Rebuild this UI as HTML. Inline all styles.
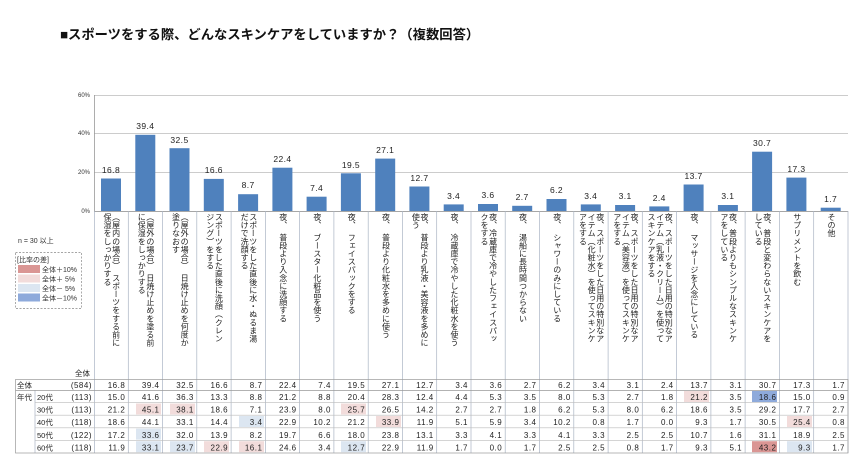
<!DOCTYPE html>
<html><head><meta charset="utf-8"><style>
html,body{margin:0;padding:0;background:#fff}
body{width:863px;height:467px;position:relative;overflow:hidden;font-family:"Liberation Sans","Noto Sans CJK JP",sans-serif}
.t{position:absolute;left:60px;top:24px;font-size:13.3px;font-weight:bold;color:#111;white-space:nowrap}
.lb{position:absolute;top:213px;width:34px;height:166px;display:flex;justify-content:center}
.lb div{writing-mode:vertical-rl;font-size:8px;line-height:8.6px;letter-spacing:0.1px;color:#222;white-space:nowrap}
svg{position:absolute;left:0;top:0}
</style></head><body>
<div class="t">■スポーツをする際、どんなスキンケアをしていますか？（複数回答）</div>
<svg width="863" height="467" font-family="Liberation Sans, Noto Sans CJK JP, sans-serif">
<g stroke="#bbb" stroke-width="0.8">
<line x1="94" y1="95.5" x2="848" y2="95.5"/><line x1="94" y1="133.5" x2="848" y2="133.5"/><line x1="94" y1="172.5" x2="848" y2="172.5"/>
</g>
<line x1="94.5" y1="95" x2="94.5" y2="211" stroke="#999" stroke-width="0.8"/>
<g font-size="6" fill="#333" text-anchor="end"><text x="90" y="97">60%</text><text x="90" y="135">40%</text><text x="90" y="174">20%</text><text x="90" y="213">0%</text></g>
<g fill="#4f81bd">
<rect x="101" y="178.5" width="20" height="32.5"/><rect x="135.3" y="134.8" width="20" height="76.2"/><rect x="169.5" y="148.2" width="20" height="62.8"/><rect x="203.8" y="178.9" width="20" height="32.1"/><rect x="238.1" y="194.2" width="20" height="16.8"/><rect x="272.4" y="167.7" width="20" height="43.3"/><rect x="306.6" y="196.7" width="20" height="14.3"/><rect x="340.9" y="173.3" width="20" height="37.7"/><rect x="375.2" y="158.6" width="20" height="52.4"/><rect x="409.4" y="186.5" width="20" height="24.5"/><rect x="443.7" y="204.4" width="20" height="6.6"/><rect x="478" y="204" width="20" height="7"/><rect x="512.2" y="205.8" width="20" height="5.2"/><rect x="546.5" y="199" width="20" height="12"/><rect x="580.8" y="204.4" width="20" height="6.6"/><rect x="615.1" y="205" width="20" height="6"/><rect x="649.3" y="206.4" width="20" height="4.6"/><rect x="683.6" y="184.5" width="20" height="26.5"/><rect x="717.9" y="205" width="20" height="6"/><rect x="752.1" y="151.7" width="20" height="59.3"/><rect x="786.4" y="177.6" width="20" height="33.4"/><rect x="820.7" y="207.7" width="20" height="3.3"/>
</g>
<line x1="94" y1="211.5" x2="848" y2="211.5" stroke="#888" stroke-width="0.8"/>
<g font-size="8.5" fill="#222" text-anchor="middle" letter-spacing="0.4">
<text x="111" y="173">16.8</text><text x="145.3" y="129">39.4</text><text x="179.5" y="143">32.5</text><text x="213.8" y="173">16.6</text><text x="248.1" y="188">8.7</text><text x="282.4" y="162">22.4</text><text x="316.6" y="191">7.4</text><text x="350.9" y="168">19.5</text><text x="385.2" y="153">27.1</text><text x="419.4" y="181">12.7</text><text x="453.7" y="199">3.4</text><text x="488" y="198">3.6</text><text x="522.2" y="200">2.7</text><text x="556.5" y="193">6.2</text><text x="590.8" y="199">3.4</text><text x="625.1" y="199">3.1</text><text x="659.3" y="201">2.4</text><text x="693.6" y="179">13.7</text><text x="727.9" y="199">3.1</text><text x="762.1" y="146">30.7</text><text x="796.4" y="172">17.3</text><text x="830.7" y="202">1.7</text>
</g>
<text x="18" y="243" font-size="7" fill="#333">n = 30 以上</text>
<rect x="15.5" y="252.5" width="66" height="56" fill="none" stroke="#888" stroke-width="0.7" stroke-dasharray="2,1.5"/>
<text x="17" y="262" font-size="7" fill="#333">[比率の差]</text>
<rect x="18" y="265" width="22" height="8" fill="#da9694"/><rect x="18" y="274.5" width="22" height="8" fill="#f2dcdb"/><rect x="18" y="284" width="22" height="8" fill="#dce6f1"/><rect x="18" y="293.5" width="22" height="8" fill="#8eaadb"/>
<g font-size="7" fill="#333"><text x="42" y="272">全体＋10%</text><text x="42" y="281.5">全体＋ 5%</text><text x="42" y="291">全体－ 5%</text><text x="42" y="300.5">全体－10%</text></g>
<rect x="136" y="403.5" width="25" height="11" fill="#f2dcdb"/><rect x="170" y="403.5" width="25" height="11" fill="#f2dcdb"/><rect x="341" y="403.5" width="25" height="11" fill="#f2dcdb"/>
<rect x="239" y="416" width="25" height="11" fill="#dce6f1"/><rect x="376" y="416" width="25" height="11" fill="#f2dcdb"/><rect x="787" y="416" width="25" height="11" fill="#f2dcdb"/>
<rect x="136" y="428.6" width="25" height="11" fill="#dce6f1"/>
<rect x="136" y="441.2" width="25" height="11" fill="#dce6f1"/><rect x="170" y="441.2" width="25" height="11" fill="#dce6f1"/><rect x="204" y="441.2" width="25" height="11" fill="#f2dcdb"/><rect x="239" y="441.2" width="25" height="11" fill="#f2dcdb"/><rect x="341" y="441.2" width="25" height="11" fill="#dce6f1"/><rect x="752" y="441.2" width="25" height="11" fill="#da9694"/><rect x="787" y="441.2" width="25" height="11" fill="#dce6f1"/>
<rect x="684" y="391" width="25" height="11" fill="#f2dcdb"/><rect x="752" y="391" width="25" height="11" fill="#8eaadb"/>
<g stroke="#aab4c4" stroke-width="0.7">
<line x1="128.3" y1="211" x2="128.3" y2="453"/><line x1="162.5" y1="211" x2="162.5" y2="453"/><line x1="196.8" y1="211" x2="196.8" y2="453"/><line x1="231.1" y1="211" x2="231.1" y2="453"/><line x1="265.4" y1="211" x2="265.4" y2="453"/><line x1="299.6" y1="211" x2="299.6" y2="453"/><line x1="333.9" y1="211" x2="333.9" y2="453"/><line x1="368.2" y1="211" x2="368.2" y2="453"/><line x1="402.4" y1="211" x2="402.4" y2="453"/><line x1="436.7" y1="211" x2="436.7" y2="453"/><line x1="471" y1="211" x2="471" y2="453"/><line x1="505.2" y1="211" x2="505.2" y2="453"/><line x1="539.5" y1="211" x2="539.5" y2="453"/><line x1="573.8" y1="211" x2="573.8" y2="453"/><line x1="608.1" y1="211" x2="608.1" y2="453"/><line x1="642.3" y1="211" x2="642.3" y2="453"/><line x1="676.6" y1="211" x2="676.6" y2="453"/><line x1="710.9" y1="211" x2="710.9" y2="453"/><line x1="745.1" y1="211" x2="745.1" y2="453"/><line x1="779.4" y1="211" x2="779.4" y2="453"/><line x1="813.7" y1="211" x2="813.7" y2="453"/><line x1="848" y1="211" x2="848" y2="453"/><line x1="94.5" y1="211" x2="94.5" y2="453"/>
<line x1="35" y1="390" x2="35" y2="453"/>
</g>
<g stroke="#999" stroke-width="0.7" fill="none">
<rect x="15.5" y="379.5" width="832.5" height="73.5"/>
<line x1="15.5" y1="390.5" x2="848" y2="390.5"/>
</g>
<g stroke="#bbb" stroke-width="0.6">
<line x1="35" y1="402.6" x2="848" y2="402.6"/><line x1="35" y1="415.2" x2="848" y2="415.2"/><line x1="35" y1="427.8" x2="848" y2="427.8"/><line x1="35" y1="440.4" x2="848" y2="440.4"/>
</g>
<g font-size="7.5" fill="#222">
<text x="75" y="376">全体</text>
<text x="17" y="388">全体</text><text x="17" y="400">年代</text>
<text x="37" y="400">20代</text><text x="37" y="412.6">30代</text><text x="37" y="425.2">40代</text><text x="37" y="437.8">50代</text><text x="37" y="450.4">60代</text>
</g>
<g font-size="8" fill="#222" text-anchor="end" letter-spacing="0.5">
<g transform="translate(92,0)"><text y="388">(584)</text><text y="400">(113)</text><text y="412.6">(113)</text><text y="425.2">(118)</text><text y="437.8">(122)</text><text y="450.4">(118)</text></g>
<g transform="translate(125.3,0)"><text y="388">16.8</text><text y="400">15.0</text><text y="412.6">21.2</text><text y="425.2">18.6</text><text y="437.8">17.2</text><text y="450.4">11.9</text></g>
<g transform="translate(159.5,0)"><text y="388">39.4</text><text y="400">41.6</text><text y="412.6">45.1</text><text y="425.2">44.1</text><text y="437.8">33.6</text><text y="450.4">33.1</text></g>
<g transform="translate(193.8,0)"><text y="388">32.5</text><text y="400">36.3</text><text y="412.6">38.1</text><text y="425.2">33.1</text><text y="437.8">32.0</text><text y="450.4">23.7</text></g>
<g transform="translate(228.1,0)"><text y="388">16.6</text><text y="400">13.3</text><text y="412.6">18.6</text><text y="425.2">14.4</text><text y="437.8">13.9</text><text y="450.4">22.9</text></g>
<g transform="translate(262.4,0)"><text y="388">8.7</text><text y="400">8.8</text><text y="412.6">7.1</text><text y="425.2">3.4</text><text y="437.8">8.2</text><text y="450.4">16.1</text></g>
<g transform="translate(296.6,0)"><text y="388">22.4</text><text y="400">21.2</text><text y="412.6">23.9</text><text y="425.2">22.9</text><text y="437.8">19.7</text><text y="450.4">24.6</text></g>
<g transform="translate(330.9,0)"><text y="388">7.4</text><text y="400">8.8</text><text y="412.6">8.0</text><text y="425.2">10.2</text><text y="437.8">6.6</text><text y="450.4">3.4</text></g>
<g transform="translate(365.2,0)"><text y="388">19.5</text><text y="400">20.4</text><text y="412.6">25.7</text><text y="425.2">21.2</text><text y="437.8">18.0</text><text y="450.4">12.7</text></g>
<g transform="translate(399.4,0)"><text y="388">27.1</text><text y="400">28.3</text><text y="412.6">26.5</text><text y="425.2">33.9</text><text y="437.8">23.8</text><text y="450.4">22.9</text></g>
<g transform="translate(433.7,0)"><text y="388">12.7</text><text y="400">12.4</text><text y="412.6">14.2</text><text y="425.2">11.9</text><text y="437.8">13.1</text><text y="450.4">11.9</text></g>
<g transform="translate(468,0)"><text y="388">3.4</text><text y="400">4.4</text><text y="412.6">2.7</text><text y="425.2">5.1</text><text y="437.8">3.3</text><text y="450.4">1.7</text></g>
<g transform="translate(502.2,0)"><text y="388">3.6</text><text y="400">5.3</text><text y="412.6">2.7</text><text y="425.2">5.9</text><text y="437.8">4.1</text><text y="450.4">0.0</text></g>
<g transform="translate(536.5,0)"><text y="388">2.7</text><text y="400">3.5</text><text y="412.6">1.8</text><text y="425.2">3.4</text><text y="437.8">3.3</text><text y="450.4">1.7</text></g>
<g transform="translate(570.8,0)"><text y="388">6.2</text><text y="400">8.0</text><text y="412.6">6.2</text><text y="425.2">10.2</text><text y="437.8">4.1</text><text y="450.4">2.5</text></g>
<g transform="translate(605.1,0)"><text y="388">3.4</text><text y="400">5.3</text><text y="412.6">5.3</text><text y="425.2">0.8</text><text y="437.8">3.3</text><text y="450.4">2.5</text></g>
<g transform="translate(639.3,0)"><text y="388">3.1</text><text y="400">2.7</text><text y="412.6">8.0</text><text y="425.2">1.7</text><text y="437.8">2.5</text><text y="450.4">0.8</text></g>
<g transform="translate(673.6,0)"><text y="388">2.4</text><text y="400">1.8</text><text y="412.6">6.2</text><text y="425.2">0.0</text><text y="437.8">2.5</text><text y="450.4">1.7</text></g>
<g transform="translate(707.9,0)"><text y="388">13.7</text><text y="400">21.2</text><text y="412.6">18.6</text><text y="425.2">9.3</text><text y="437.8">10.7</text><text y="450.4">9.3</text></g>
<g transform="translate(742.1,0)"><text y="388">3.1</text><text y="400">3.5</text><text y="412.6">3.5</text><text y="425.2">1.7</text><text y="437.8">1.6</text><text y="450.4">5.1</text></g>
<g transform="translate(776.4,0)"><text y="388">30.7</text><text y="400">18.6</text><text y="412.6">29.2</text><text y="425.2">30.5</text><text y="437.8">31.1</text><text y="450.4">43.2</text></g>
<g transform="translate(810.7,0)"><text y="388">17.3</text><text y="400">15.0</text><text y="412.6">17.7</text><text y="425.2">25.4</text><text y="437.8">18.9</text><text y="450.4">9.3</text></g>
<g transform="translate(845,0)"><text y="388">1.7</text><text y="400">0.9</text><text y="412.6">2.7</text><text y="425.2">0.8</text><text y="437.8">2.5</text><text y="450.4">1.7</text></g>
</g>
</svg>
<div class="lb" style="left:94px"><div>（屋内の場合）　スポーツをする前に<br>保湿をしっかりする</div></div>
<div class="lb" style="left:128.3px"><div>（屋外の場合）　日焼け止めを塗る前<br>に保湿をしっかりする</div></div>
<div class="lb" style="left:162.5px"><div>（屋外の場合）　日焼け止めを何度か<br>塗りなおす</div></div>
<div class="lb" style="left:196.8px"><div>スポーツをした直後に洗顔（クレン<br>ジング）をする</div></div>
<div class="lb" style="left:231.1px"><div>スポーツをした直後に水・ぬるま湯<br>だけで洗顔する</div></div>
<div class="lb" style="left:265.4px"><div>夜、　普段より入念に洗顔する</div></div>
<div class="lb" style="left:299.6px"><div>夜、　ブースター化粧品を使う</div></div>
<div class="lb" style="left:333.9px"><div>夜、　フェイスパックをする</div></div>
<div class="lb" style="left:368.2px"><div>夜、　普段より化粧水を多めに使う</div></div>
<div class="lb" style="left:402.4px"><div>夜、　普段より乳液・美容液を多めに<br>使う</div></div>
<div class="lb" style="left:436.7px"><div>夜、　冷蔵庫で冷やした化粧水を使う</div></div>
<div class="lb" style="left:471px"><div>夜、冷蔵庫で冷やしたフェイスパッ<br>クをする</div></div>
<div class="lb" style="left:505.2px"><div>夜、　湯船に長時間つからない</div></div>
<div class="lb" style="left:539.5px"><div>夜、　シャワーのみにしている</div></div>
<div class="lb" style="left:573.8px"><div>夜、スポーツをした日用の特別なア<br>イテム（化粧水）を使ってスキンケ<br>アをする</div></div>
<div class="lb" style="left:608.1px"><div>夜、スポーツをした日用の特別なア<br>イテム（美容液）を使ってスキンケ<br>アをする</div></div>
<div class="lb" style="left:642.3px"><div>夜、スポーツをした日用の特別なア<br>イテム（乳液・クリーム）を使って<br>スキンケアをする</div></div>
<div class="lb" style="left:676.6px"><div>夜、　マッサージを入念にしている</div></div>
<div class="lb" style="left:710.9px"><div>夜、普段よりもシンプルなスキンケ<br>アをしている</div></div>
<div class="lb" style="left:745.1px"><div>夜、普段と変わらないスキンケアを<br>している</div></div>
<div class="lb" style="left:779.4px"><div>サプリメントを飲む</div></div>
<div class="lb" style="left:813.7px"><div>その他</div></div>
</body></html>
